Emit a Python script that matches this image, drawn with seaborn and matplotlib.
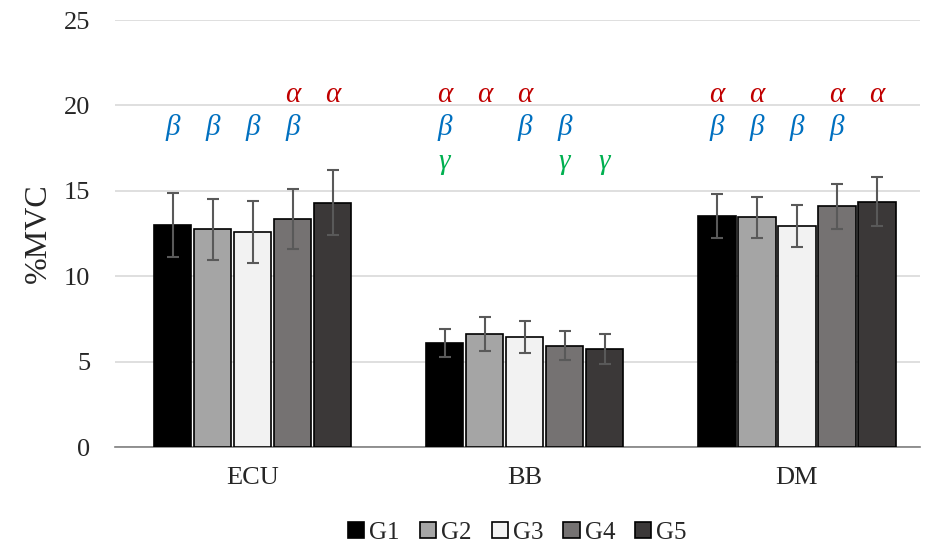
import pandas as pd
import numpy as np
import matplotlib
matplotlib.use("Agg")
import matplotlib.pyplot as plt
import seaborn as sns

# data
muscles = ["ECU", "BB", "DM"]
groups = ["G1", "G2", "G3", "G4", "G5"]
means = {
    "ECU": [13.0, 12.76, 12.59, 13.35, 14.3],
    "BB": [6.09, 6.62, 6.46, 5.95, 5.74],
    "DM": [13.52, 13.47, 12.94, 14.09, 14.36],
}
sds = {
    "ECU": [1.87, 1.78, 1.83, 1.75, 1.9],
    "BB": [0.84, 0.99, 0.92, 0.86, 0.88],
    "DM": [1.3, 1.2, 1.25, 1.3, 1.43],
}
# significance marks per bar (alpha, beta, gamma)
marks = {
    "ECU": ["b", "b", "b", "ab", "a"],
    "BB": ["abg", "a", "ab", "bg", "g"],
    "DM": ["ab", "ab", "b", "ab", "a"],
}
group_colors = ["#000000", "#a5a5a5", "#f2f2f2", "#767171", "#3b3838"]

rows = []
for m in muscles:
    for g, v, s in zip(groups, means[m], sds[m]):
        rows.append({"Muscle": m, "Group": g, "MVC": v, "SD": s})
df = pd.DataFrame(rows)

sns.set_style("white")
plt.rcParams["font.family"] = ["Liberation Serif", "DejaVu Serif"]

fig, ax = plt.subplots(figsize=(9.29, 5.42), dpi=100)
fig.subplots_adjust(left=0.124, right=0.99, top=0.963, bottom=0.175)

sns.barplot(data=df, x="Muscle", y="MVC", hue="Group", order=muscles,
            hue_order=groups, palette=group_colors, errorbar=None,
            width=0.735, edgecolor="black", linewidth=1.2, ax=ax, zorder=3)

# shrink bars slightly for gaps
for p in ax.patches:
    w = p.get_width()
    p.set_x(p.get_x() + w * 0.03)
    p.set_width(w * 0.94)

mark_style = {
    "a": ("α", "#c00000", 20.6),
    "b": ("β", "#0070c0", 18.7),
    "g": ("γ", "#00b050", 16.7),
}

for gi, g in enumerate(groups):
    for mi, m in enumerate(muscles):
        p = ax.containers[gi][mi]
        xc = p.get_x() + p.get_width() / 2
        ax.errorbar(xc, means[m][gi], yerr=sds[m][gi], fmt="none",
                    ecolor="#595959", elinewidth=1.5, capsize=4,
                    capthick=1.5, zorder=4)
        for k in marks[m][gi]:
            sym, col, yy = mark_style[k]
            ax.text(xc, yy, sym, color=col, ha="center", va="center",
                    fontsize=21, style="italic", zorder=5)

ax.set_ylim(0, 25)
ax.set_yticks([0, 5, 10, 15, 20, 25])
ax.set_xlim(-0.505, 2.452)
ax.yaxis.grid(True, color="#d9d9d9", linewidth=1.2, zorder=0)
ax.set_axisbelow(True)
for s in ["top", "right", "left"]:
    ax.spines[s].set_visible(False)
ax.spines["bottom"].set_color("#808080")
ax.spines["bottom"].set_linewidth(1.2)
ax.tick_params(axis="both", length=0, labelsize=19)
ax.tick_params(axis="y", pad=18)
ax.tick_params(axis="x", pad=14)
ax.set_xlabel("")
ax.set_ylabel("%MVC", fontsize=23, labelpad=8)

ax.legend(loc="center", bbox_to_anchor=(0.5, -0.20), ncol=5,
          frameon=False, fontsize=18, handlelength=0.65, handleheight=0.65,
          handletextpad=0.2, columnspacing=0.8)

fig.savefig("out.png", dpi=100)
